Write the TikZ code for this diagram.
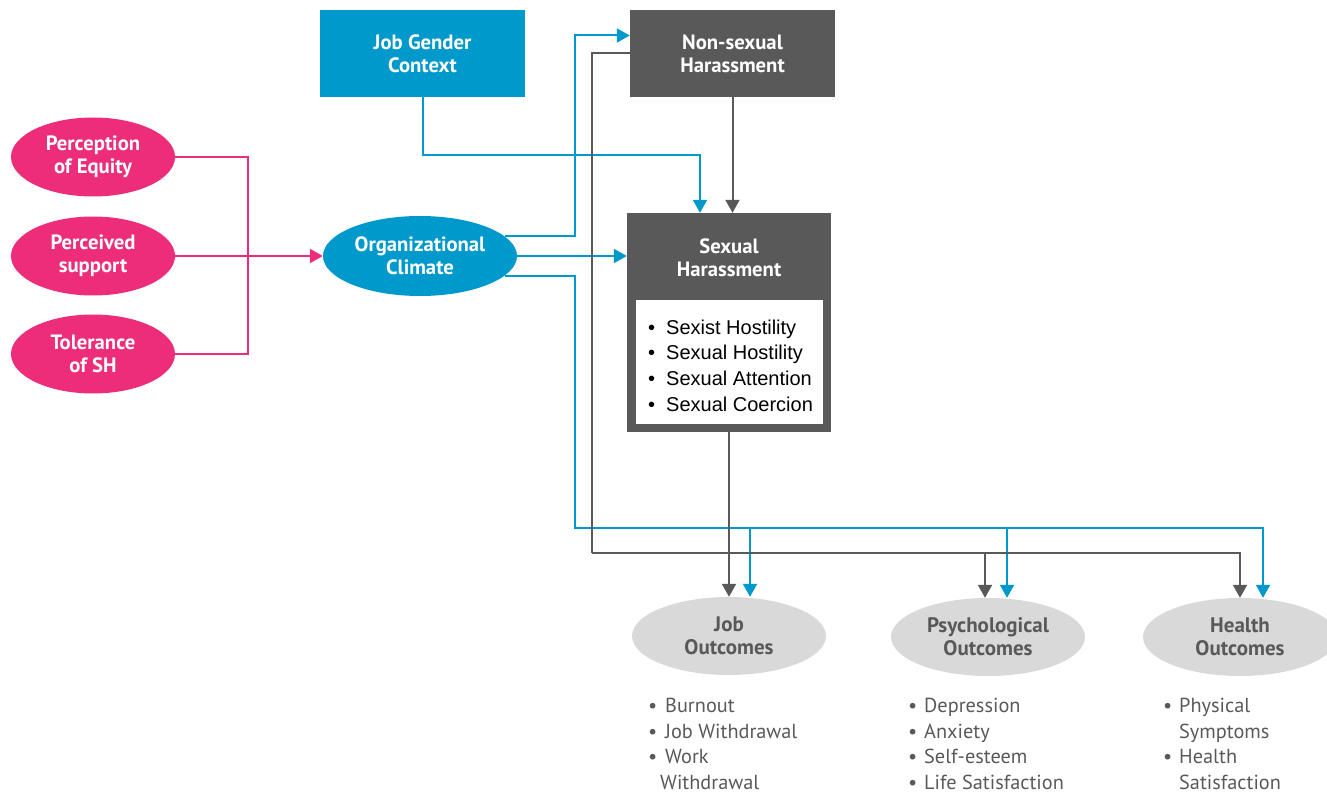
\documentclass[tikz,border=0pt]{standalone}
\usepackage{fontspec}
\setmainfont{PT Sans}
\newfontfamily\arialf{Liberation Sans}
\usetikzlibrary{shapes.geometric,arrows.meta,calc}
\definecolor{cblue}{RGB}{0,153,204}
\definecolor{cgray}{RGB}{89,89,89}
\definecolor{cpink}{RGB}{237,45,122}
\definecolor{clight}{RGB}{217,217,217}
\newcommand\blt[1]{\makebox[#1][l]{\textbullet}}
\begin{document}
\begin{tikzpicture}[x=1pt,y=-1pt,
  lbl/.style={text=white,font=\bfseries\fontsize{20.7}{23}\selectfont,align=center},
  bluebox/.style={rectangle,fill=cblue,minimum width=205pt,minimum height=87pt,inner sep=0pt,lbl},
  graybox/.style={rectangle,fill=cgray,minimum width=205pt,minimum height=87pt,inner sep=0pt,lbl},
  pinkell/.style={ellipse,fill=cpink,minimum width=164pt,minimum height=79pt,inner sep=0pt,lbl},
  blueell/.style={ellipse,fill=cblue,minimum width=194pt,minimum height=80pt,inner sep=0pt,lbl},
  outell/.style={ellipse,fill=clight,minimum width=194pt,minimum height=78pt,inner sep=0pt,text=cgray,font=\bfseries\fontsize{21}{23}\selectfont,align=center},
  outlist/.style={anchor=north west,inner sep=0pt,align=left,text=cgray,font=\fontsize{20.3}{25.7}\selectfont},
  tip/.style={-{Triangle[length=13pt,width=14pt]}},
  pinkln/.style={line width=2pt,draw=cpink},
  blueln/.style={line width=2pt,draw=cblue},
  grayln/.style={line width=2pt,draw=cgray}
]
\useasboundingbox (0,0) rectangle (1327,794);

% nodes
\node[bluebox] (jgc) at (422.5,53.5) {Job Gender\\Context};
\node[graybox] (nsh) at (732.5,53.5) {Non-sexual\\Harassment};
\node[rectangle,fill=cgray,minimum width=204pt,minimum height=219pt,inner sep=0pt] (sh) at (729,322.5) {};
\node[lbl] (sht) at (729,258) {Sexual\\Harassment};
\node[rectangle,fill=white,minimum width=187pt,minimum height=124pt,inner sep=0pt] (shl) at (729.5,362) {};
\node[anchor=north west,inner sep=0pt,align=left,font=\arialf\fontsize{20}{25.7}\selectfont] (shlist) at (648,319.5)
  {\blt{18pt}Sexist Hostility\\\blt{18pt}Sexual Hostility\\\blt{18pt}Sexual Attention\\\blt{18pt}Sexual Coercion};

\node[pinkell] (pe) at (93,157) {Perception\\of Equity};
\node[pinkell] (ps) at (93,256) {Perceived\\support};
\node[pinkell] (ts) at (93,354) {Tolerance\\of SH};
\node[blueell] (oc) at (420,256) {Organizational\\Climate};

\node[outell] (jo) at (729,636) {Job\\Outcomes};
\node[outell] (po) at (988,637) {Psychological\\Outcomes};
\node[outell] (ho) at (1240,637) {Health\\Outcomes};

\node[outlist] (jl) at (648,698) {\blt{17pt}Burnout\\\blt{17pt}Job Withdrawal\\\blt{17pt}Work\\\hspace*{12pt}Withdrawal};
\node[outlist] (pl) at (908,698) {\blt{16pt}Depression\\\blt{16pt}Anxiety\\\blt{16pt}Self-esteem\\\blt{16pt}Life Satisfaction};
\node[outlist] (hl) at (1163,698) {\blt{16pt}Physical\\\hspace*{16pt}Symptoms\\\blt{16pt}Health\\\hspace*{16pt}Satisfaction};

% helper coordinates
\coordinate (pj) at (248,256);
\coordinate (bx) at (575,528);
\coordinate (gx) at (592,553);
\coordinate (jb) at (0,155);
\coordinate (jgt) at ($(sh.north)+(-29,0)$);
\coordinate (job) at ($(jo.north)+(21,0)$);
\coordinate (pob) at ($(po.north)+(19,0)$);
\coordinate (hob) at ($(ho.north)+(23,0)$);
\coordinate (pog) at ($(po.north)+(-3,0)$);

% pink connectors
\draw[pinkln] (pe.east) -| (pj);
\draw[pinkln] (ts.east) -| (pj);
\draw[pinkln,tip] (ps.east) -- (oc.west);

% blue connectors
\draw[blueln,tip] (jgc.south) -- (jgc.south |- jb) -| (jgt);
\draw[blueln,tip] (oc.13) -- (oc.13 -| bx) |- ([yshift=18pt]nsh.west);
\draw[blueln,tip] (oc.east) -- (oc.east -| sh.west);
\draw[blueln,tip] (oc.-13) -| (bx) -| (hob);
\draw[blueln,tip] (job |- bx) -- (job);
\draw[blueln,tip] (pob |- bx) -- (pob);

% gray connectors
\draw[grayln,tip] (nsh.south) -- (nsh.south |- sh.north);
\draw[grayln] (nsh.west) -| (gx);
\draw[grayln,tip] (gx) -| (ho.north);
\draw[grayln,tip] (pog |- gx) -- (pog);
\draw[grayln,tip] (sh.south) -- (jo.north);
\end{tikzpicture}
\end{document}
